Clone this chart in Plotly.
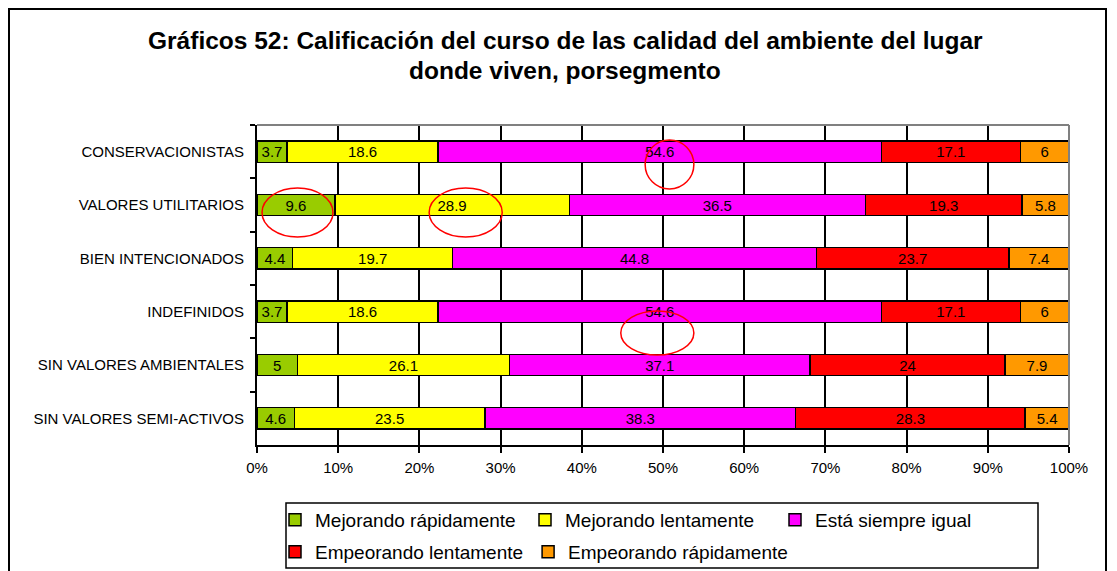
import plotly.graph_objects as go

categories = ["CONSERVACIONISTAS", "VALORES UTILITARIOS", "BIEN INTENCIONADOS",
              "INDEFINIDOS", "SIN VALORES AMBIENTALES", "SIN VALORES SEMI-ACTIVOS"]
series_names = ["Mejorando rápidamente", "Mejorando lentamente", "Está siempre igual",
                "Empeorando lentamente", "Empeorando rápidamente"]
mejorando_rapido = [3.7, 9.6, 4.4, 3.7, 5, 4.6]
mejorando_lento = [18.6, 28.9, 19.7, 18.6, 26.1, 23.5]
siempre_igual = [54.6, 36.5, 44.8, 54.6, 37.1, 38.3]
empeorando_lento = [17.1, 19.3, 23.7, 17.1, 24, 28.3]
empeorando_rapido = [6, 5.8, 7.4, 6, 7.9, 5.4]
colors = ["#99CC00", "#FFFF00", "#FF00FF", "#FF0000", "#FF9900"]
legend_rows = ["legend", "legend", "legend", "legend2", "legend2"]
tick_vals = [0, 10, 20, 30, 40, 50, 60, 70, 80, 90, 100]
tick_text = [f"{v}%" for v in tick_vals]
title_lines = ["Gráficos 52: Calificación del curso de las calidad del ambiente del lugar",
               "donde viven, porsegmento"]

FONT = "Liberation Sans, Arial, sans-serif"
OFF = 8  # page body margin
W, H = 1109, 563
L, R, T, B = 249, 48, 117, 126
PW, PH = W - L - R, H - T - B


def px_x(s):
    return (s - OFF - L) / PW


def px_y(s):
    return (H - B - (s - OFF)) / PH


fig = go.Figure()
for name, vals, col, lg in zip(series_names,
                               [mejorando_rapido, mejorando_lento, siempre_igual,
                                empeorando_lento, empeorando_rapido], colors, legend_rows):
    fig.add_trace(go.Bar(
        y=categories, x=vals, name=name, orientation="h", legend=lg,
        marker=dict(color=col, line=dict(color="black", width=1.5)),
        text=[f"{v:g}" for v in vals], textposition="inside",
        insidetextanchor="middle", textangle=0,
        textfont=dict(family=FONT, size=15, color="black"),
        constraintext="none", hoverinfo="x+y+name",
    ))

legend_common = dict(orientation="h", xref="container", yref="container",
                     x=267 / W, xanchor="left", yanchor="middle",
                     borderwidth=0, bgcolor="rgba(0,0,0,0)",
                     font=dict(family=FONT, size=19, color="black"),
                     traceorder="normal", itemclick=False, itemdoubleclick=False)

fig.update_layout(
    barmode="stack", barnorm="percent", bargap=0.6,
    width=W, height=H,
    margin=dict(l=L, r=R, t=T, b=B, autoexpand=False),
    paper_bgcolor="white", plot_bgcolor="white",
    font=dict(family=FONT, size=15, color="black"),
    uniformtext=dict(minsize=15, mode="show"),
    xaxis=dict(range=[0, 100], tickvals=tick_vals, ticktext=tick_text,
               showgrid=True, gridcolor="black", gridwidth=2,
               showline=True, linecolor="black", linewidth=2,
               ticks="outside", ticklen=6, tickcolor="black", tickwidth=2,
               ticklabelstandoff=2,
               zeroline=False, fixedrange=True, automargin=False,
               tickfont=dict(size=15)),
    yaxis=dict(autorange="reversed", showgrid=False, automargin=False,
               showline=True, linecolor="black", linewidth=2,
               ticks="outside", tickson="boundaries", ticklen=5,
               tickcolor="black", tickwidth=2, ticklabelstandoff=8,
               tickfont=dict(size=15), fixedrange=True),
    legend=dict(legend_common, y=1 - (520 - OFF) / H, entrywidth=205),
    legend2=dict(legend_common, y=1 - (552 - OFF) / H, entrywidth=0),
    showlegend=True,
)

# title (two centred bold lines)
for line, sy in zip(title_lines, [40.5, 70]):
    fig.add_annotation(text=f"<b>{line}</b>", xref="paper", yref="paper",
                       x=px_x(565), y=px_y(sy), xanchor="center", yanchor="middle",
                       showarrow=False, font=dict(family=FONT, size=24.5, color="black"))

# plot-area gray top/right border
fig.add_shape(type="line", xref="paper", yref="paper", x0=0, x1=1, y0=1, y1=1,
              line=dict(color="#808080", width=2))
fig.add_shape(type="line", xref="paper", yref="paper", x0=1, x1=1, y0=0, y1=1,
              line=dict(color="#808080", width=2))

# outer chart border
fig.add_shape(type="rect", xref="paper", yref="paper",
              x0=px_x(9), x1=px_x(1106), y0=px_y(590), y1=px_y(9),
              line=dict(color="black", width=2), layer="below")

# legend box
fig.add_shape(type="rect", xref="paper", yref="paper",
              x0=px_x(286), x1=px_x(1038), y0=px_y(568), y1=px_y(503),
              line=dict(color="black", width=1.5), layer="below")

# hand-drawn red ellipses
ellipses = [(0.62, 9.36, px_y(237), px_y(188)), (21.2, 30.2, px_y(237), px_y(188)),
            (47.8, 53.8, px_y(189), px_y(140)), (44.8, 53.8, px_y(355), px_y(311))]
for x0, x1, y0, y1 in ellipses:
    fig.add_shape(type="circle", xref="x", yref="paper", x0=x0, x1=x1, y0=y0, y1=y1,
                  line=dict(color="#FF0000", width=1.5))

fig.write_html("out.html")
